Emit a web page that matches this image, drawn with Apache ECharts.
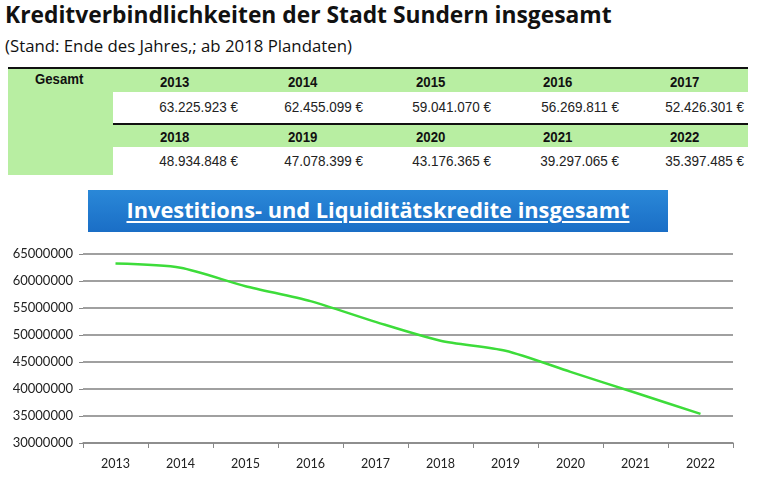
<!DOCTYPE html>
<html><head><meta charset="utf-8">
<script src="https://cdn.jsdelivr.net/npm/echarts@6/dist/echarts.min.js"></script>
<style>
html,body{margin:0;padding:0;background:#fff;}
#page{position:relative;width:768px;height:487px;overflow:hidden;background:#fff;}
.abs{position:absolute;white-space:nowrap;}
#title{left:5px;top:-1px;font:bold 22.8px "Open Sans",sans-serif;color:#111;}
#sub{left:5px;top:34px;font:16.8px "Open Sans",sans-serif;color:#111;}
.line{position:absolute;background:#111;height:2px;}
.green{position:absolute;background:#b8eea2;}
.yr{position:absolute;font:bold 15px "Liberation Sans",sans-serif;color:#111;transform:scaleX(0.88);transform-origin:left center;}
.val{position:absolute;font:15px "Liberation Sans",sans-serif;color:#222;text-align:right;width:130px;transform:scaleX(0.9);transform-origin:right center;}
#banner{left:88px;top:190px;width:580px;height:42px;background:linear-gradient(#2a88d8,#1a6ec6);}
#banner span{position:absolute;left:0;right:0;top:5px;text-align:center;font:bold 21.8px "Open Sans",sans-serif;color:#fff;text-decoration:underline;text-decoration-thickness:2px;text-underline-offset:3px;}
#chart{position:absolute;left:0;top:240px;width:768px;height:247px;}
</style></head>
<body><div id="page">
<div id="title" class="abs">Kreditverbindlichkeiten der Stadt Sundern insgesamt</div>
<div id="sub" class="abs">(Stand: Ende des Jahres,; ab 2018 Plandaten)</div>
<div class="green" style="left:8px;top:69px;width:105px;height:106px;"></div>
<div class="green" style="left:113px;top:69px;width:635px;height:23px;"></div>
<div class="green" style="left:113px;top:125px;width:635px;height:22px;"></div>
<div class="line" style="left:8px;top:67px;width:740px;"></div>
<div class="line" style="left:113px;top:123px;width:635px;"></div>
<div class="abs" style="left:35px;top:70px;font:bold 15px 'Liberation Sans',sans-serif;color:#111;transform:scaleX(0.88);transform-origin:left center;">Gesamt</div>
<div id="tbl"></div>
<div id="banner" class="abs"><span>Investitions- und Liquiditätskredite insgesamt</span></div>
<div id="chart"></div>
</div>
<script>
const years = ['2013','2014','2015','2016','2017','2018','2019','2020','2021','2022'];
const values = [63225923, 62455099, 59041070, 56269811, 52426301, 48934848, 47078399, 43176365, 39297065, 35397485];
const valueLabels = ['63.225.923 €','62.455.099 €','59.041.070 €','56.269.811 €','52.426.301 €','48.934.848 €','47.078.399 €','43.176.365 €','39.297.065 €','35.397.485 €'];

const tbl = document.getElementById('tbl');
const yearX = [160, 288, 416, 543, 670];
const valRight = [238, 363, 491, 619, 744];
years.forEach((y, i) => {
  const row = Math.floor(i / 5), c = i % 5;
  const yd = document.createElement('div');
  yd.className = 'yr'; yd.textContent = y;
  yd.style.left = yearX[c] + 'px'; yd.style.top = (row ? 128 : 73) + 'px';
  tbl.appendChild(yd);
  const vd = document.createElement('div');
  vd.className = 'val'; vd.textContent = valueLabels[i];
  vd.style.left = (valRight[c] - 130) + 'px'; vd.style.top = (row ? 152 : 98) + 'px';
  tbl.appendChild(vd);
});

const chart = echarts.init(document.getElementById('chart'), null, {renderer: 'canvas'});
chart.setOption({
  animation: false,
  grid: {left: 83, right: 35, top: 14, bottom: 44},
  xAxis: {
    type: 'category', data: years, boundaryGap: true,
    axisLine: {lineStyle: {color: '#888', width: 1.5}},
    axisTick: {show: true, length: 5, lineStyle: {color: '#888'}},
    axisLabel: {color: '#222', fontFamily: 'Lato', fontSize: 12.5, margin: 14}
  },
  yAxis: {
    type: 'value', min: 30000000, max: 65000000, interval: 5000000,
    axisLine: {show: false},
    axisTick: {show: true, length: 4, lineStyle: {color: '#888'}},
    axisLabel: {color: '#222', fontFamily: 'Lato', fontSize: 13, margin: 10, formatter: v => String(v)},
    splitLine: {lineStyle: {color: '#808080', width: 1.5}}
  },
  series: [{
    type: 'line', data: values, smooth: 0.25, symbol: 'none',
    lineStyle: {color: '#3ddc3a', width: 2.5}
  }]
});
</script>
</body></html>
